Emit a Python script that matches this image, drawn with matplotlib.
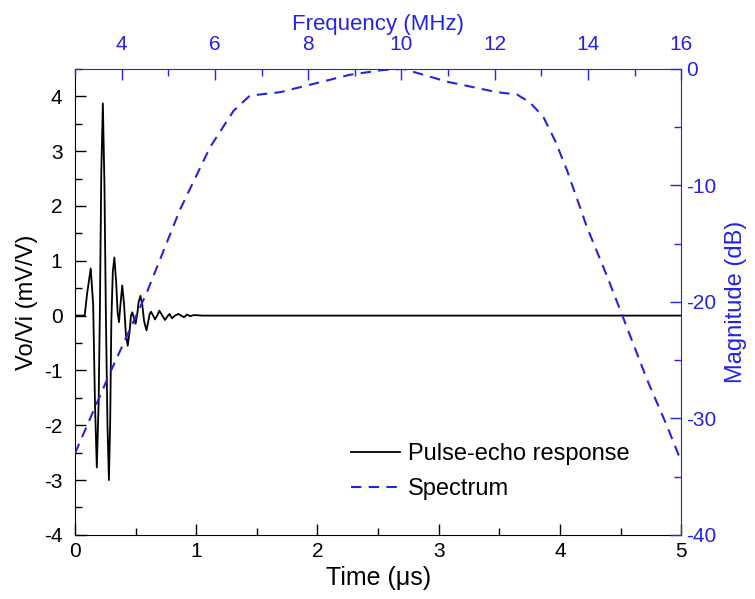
import numpy as np
import matplotlib
matplotlib.use('Agg')
import matplotlib.pyplot as plt
from matplotlib.ticker import MultipleLocator

plt.rcParams['font.family'] = ['Liberation Sans', 'DejaVu Sans']
plt.rcParams['axes.unicode_minus'] = False

# pulse-echo response (time in us, Vo/Vi in mV/V)
time_us = [0.0, 0.08, 0.10, 0.13, 0.15, 0.165, 0.18, 0.195, 0.205, 0.217, 0.23, 0.243,
           0.255, 0.268, 0.28, 0.29, 0.30, 0.312, 0.325, 0.34, 0.352, 0.363, 0.375, 0.39,
           0.405, 0.42, 0.435, 0.45, 0.462, 0.473, 0.487, 0.50, 0.515, 0.525, 0.54, 0.555,
           0.57, 0.59, 0.605, 0.615, 0.627, 0.645, 0.66, 0.678, 0.696, 0.72, 0.743, 0.76,
           0.78, 0.80, 0.825, 0.853, 0.875, 0.90, 0.925, 0.95, 0.98, 1.05, 5.0]
volts = [0.0, 0.0, 0.4, 0.86, 0.2, -1.6, -2.77, -1.6, 0.0, 2.6, 3.87, 2.4,
         0.0, -2.0, -3.0, -2.0, -0.1, 0.8, 1.06, 0.6, 0.05, -0.12, 0.2, 0.55,
         0.2, -0.35, -0.55, -0.3, 0.0, 0.06, -0.05, -0.15, 0.05, 0.25, 0.36, 0.2,
         -0.1, -0.27, -0.1, 0.02, 0.07, 0.0, -0.07, 0.0, 0.09, 0.0, -0.08, -0.02,
         0.03, -0.05, 0.0, 0.03, 0.0, -0.03, 0.02, -0.01, 0.01, 0.0, 0.0]

# spectrum (frequency in MHz, magnitude in dB)
freq_mhz = [3.0, 3.75, 4.54, 5.25, 5.9, 6.4, 6.75, 7.4, 8.0, 8.9, 9.6, 10.04,
            10.98, 12.05, 12.48, 12.76, 13.04, 13.3, 13.55, 13.98, 14.41, 14.73,
            15.27, 15.7, 16.0]
mag_db = [-33.0, -26.1, -19.2, -12.1, -6.7, -3.6, -2.3, -2.0, -1.4, -0.5, -0.1, 0.0,
          -1.1, -2.0, -2.2, -2.9, -4.1, -6.2, -8.7, -13.6, -17.8, -21.1,
          -26.7, -30.7, -33.7]

blue = '#2424e0'

fig = plt.figure(figsize=(7.55, 5.99), dpi=100)
rect = [0.0993, 0.107, 0.803, 0.778]
ax = fig.add_axes(rect)
ax2 = fig.add_axes(rect)
ax2.patch.set_visible(False)

l1, = ax.plot(time_us, volts, color='black', lw=1.3, label='Pulse-echo response')
ax.set_xlim(0, 5)
ax.set_ylim(-4, 4.5)
ax.xaxis.set_major_locator(MultipleLocator(1))
ax.xaxis.set_minor_locator(MultipleLocator(0.5))
ax.set_yticks(range(-4, 5))
ax.yaxis.set_minor_locator(MultipleLocator(0.5))
ax.tick_params(which='both', direction='in', labelsize=15, top=False, right=False)
ax.tick_params(which='major', length=8, width=1)
ax.tick_params(which='minor', length=5, width=1)
ax.tick_params(axis='y', pad=9)
ax.tick_params(axis='x', pad=5)
ax.spines['top'].set_visible(False)
ax.spines['right'].set_visible(False)
ax.set_xlabel('Time (\u03bcs)', fontsize=18, labelpad=4)
ax.set_ylabel('Vo/Vi (mV/V)', fontsize=17, labelpad=4)

l2, = ax2.plot(freq_mhz, mag_db, color=blue, lw=1.5, ls=(0, (5, 3.5)), label='Spectrum')
ax2.set_xlim(3, 16)
ax2.set_ylim(-40, 0)
ax2.xaxis.tick_top()
ax2.yaxis.tick_right()
ax2.xaxis.set_label_position('top')
ax2.yaxis.set_label_position('right')
ax2.set_xticks(range(4, 17, 2))
ax2.xaxis.set_minor_locator(MultipleLocator(1))
ax2.set_yticks(range(-40, 1, 10))
ax2.yaxis.set_minor_locator(MultipleLocator(5))
ax2.tick_params(which='both', direction='in', labelsize=15, colors=blue,
                bottom=False, left=False, labelbottom=False, labelleft=False)
ax2.tick_params(which='major', length=8, width=1)
ax2.tick_params(which='minor', length=5, width=1)
ax2.tick_params(axis='x', pad=11)
ax2.spines['bottom'].set_visible(False)
ax2.spines['left'].set_visible(False)
for s in ['top', 'right']:
    ax2.spines[s].set_color(blue)
ax2.set_xlabel('Frequency (MHz)', fontsize=16, color=blue, labelpad=3)
ax2.set_ylabel('Magnitude (dB)', fontsize=17, color=blue, labelpad=6)

ax2.legend(handles=[l1, l2], loc='upper left', bbox_to_anchor=(0.42, 0.242),
           frameon=False, fontsize=17, handlelength=2.1, handletextpad=0.3,
           labelspacing=0.55)

fig.savefig('out.png', dpi=100)
